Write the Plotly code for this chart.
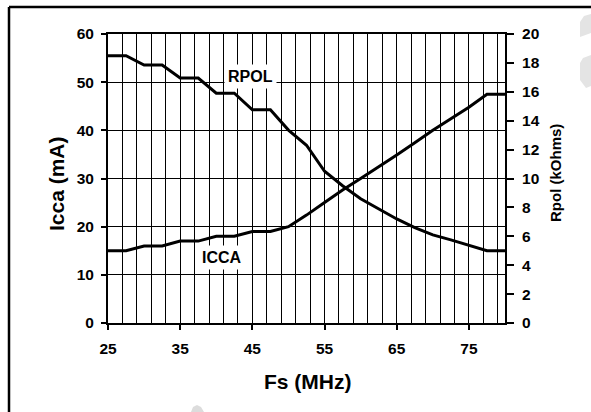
import plotly.graph_objects as go

# Sampling frequency (MHz)
fs = [25, 27.5, 30, 32.5, 35, 37.5, 40, 42.5, 45, 47.5, 50, 52.5,
      55, 57.5, 60, 62.5, 65, 67.5, 70, 72.5, 75, 77.5, 80]
# Analog supply current (mA), left axis
icca = [15, 15, 16, 16, 17, 17, 18, 18, 19, 19, 20, 22.4,
        25, 27.6, 30, 32.4, 34.9, 37.4, 40, 42.4, 44.8, 47.5, 47.5]
# Bias resistor (kOhms), right axis
rpol = [18.5, 18.5, 17.85, 17.85, 16.95, 16.95, 15.9, 15.9, 14.75, 14.75,
        13.35, 12.3, 10.5, 9.5, 8.6, 7.9, 7.2, 6.6, 6.1, 5.75, 5.4, 5.0, 5.0]

x_ticks = [25, 35, 45, 55, 65, 75]
y1_ticks = [0, 10, 20, 30, 40, 50, 60]
y2_ticks = [0, 2, 4, 6, 8, 10, 12, 14, 16, 18, 20]

FONT = "Liberation Sans, Arial, sans-serif"
W, H = 591, 412
L, R, T, B = 108, 505, 34, 323  # plot area in pixels


def px_x(px):
    return (px - L) / (R - L)


def px_y(py):
    return (B - py) / (B - T)


fig = go.Figure()
fig.add_trace(go.Scatter(x=fs, y=icca, mode="lines", name="ICCA",
                         line=dict(color="black", width=3), yaxis="y"))
fig.add_trace(go.Scatter(x=fs, y=rpol, mode="lines", name="RPOL",
                         line=dict(color="black", width=3), yaxis="y2"))

tickfont = dict(family=FONT, size=15.5, color="black", weight="bold")

fig.update_layout(
    width=W, height=H,
    margin=dict(l=L, r=W - R, t=T, b=H - B, pad=0),
    paper_bgcolor="white", plot_bgcolor="white",
    showlegend=False,
    xaxis=dict(
        range=[25, 80], tickvals=x_ticks, ticks="outside", ticklen=5,
        tickwidth=1.5, tickcolor="black", tickfont=tickfont,
        ticklabelstandoff=5,
        showline=True, linecolor="black", linewidth=2, mirror=True,
        showgrid=True, gridcolor="black", gridwidth=1,
        minor=dict(tick0=25, dtick=2, showgrid=True, gridcolor="black",
                   gridwidth=1, ticks=""),
        zeroline=False, fixedrange=True,
    ),
    yaxis=dict(
        range=[0, 60], tickvals=y1_ticks, ticks="outside", ticklen=5,
        tickwidth=1.5, tickcolor="black", tickfont=tickfont,
        ticklabelstandoff=4,
        showline=True, linecolor="black", linewidth=2,
        showgrid=True, gridcolor="black", gridwidth=1,
        zeroline=False, fixedrange=True,
    ),
    yaxis2=dict(
        range=[0, 20], tickvals=y2_ticks, ticks="outside", ticklen=7,
        tickwidth=1.5, tickcolor="black", tickfont=tickfont,
        ticklabelstandoff=5,
        overlaying="y", side="right",
        showline=True, linecolor="black", linewidth=2,
        showgrid=False, zeroline=False, fixedrange=True,
    ),
)

# Axis titles
fig.add_annotation(text="Fs (MHz)", xref="paper", yref="paper",
                   x=px_x(307.5), y=px_y(381), xanchor="center", yanchor="middle",
                   showarrow=False,
                   font=dict(family=FONT, size=21, color="black", weight="bold"))
fig.add_annotation(text="Icca (mA)", xref="paper", yref="paper",
                   x=px_x(56), y=px_y(184), xanchor="center", yanchor="middle",
                   showarrow=False, textangle=-90,
                   font=dict(family=FONT, size=21, color="black", weight="bold"))
fig.add_annotation(text="Rpol (kOhms)", xref="paper", yref="paper",
                   x=px_x(555), y=px_y(173), xanchor="center", yanchor="middle",
                   showarrow=False, textangle=-90,
                   font=dict(family=FONT, size=15, color="black", weight="bold"))

# Curve labels on white boxes
fig.add_annotation(text="RPOL", x=44.75, y=51.2, xref="x", yref="y",
                   xanchor="center", yanchor="middle",
                   showarrow=False, bgcolor="white", borderpad=3,
                   font=dict(family=FONT, size=16, color="black", weight="bold"))
fig.add_annotation(text="ICCA", x=40.8, y=13.7, xref="x", yref="y",
                   xanchor="center", yanchor="middle",
                   showarrow=False, bgcolor="white", borderpad=3,
                   font=dict(family=FONT, size=16, color="black", weight="bold"))

# Outer frame (open on the right and bottom edges of the page)
fig.add_shape(type="line", xref="paper", yref="paper",
              x0=px_x(9), y0=px_y(7), x1=px_x(W + 5), y1=px_y(7),
              line=dict(color="black", width=2.5), layer="above")
fig.add_shape(type="line", xref="paper", yref="paper",
              x0=px_x(9), y0=px_y(7), x1=px_x(9), y1=px_y(H + 5),
              line=dict(color="black", width=2.5), layer="above")

# Faint grey marks near the page edges
def pth(points):
    s = "M " + " L ".join(f"{px_x(a):.5f},{px_y(b):.5f}" for a, b in points)
    return s + " Z"

fig.add_shape(type="path", xref="paper", yref="paper",
              path=pth([(584, 16), (591, 14), (591, 33), (580, 37), (580, 22)]),
              fillcolor="#e4e4e4", line=dict(width=0), layer="above")
fig.add_shape(type="path", xref="paper", yref="paper",
              path=pth([(583, 58), (591, 55), (591, 86), (586, 88), (580, 80), (580, 63)]),
              fillcolor="#e4e4e4", line=dict(width=0), layer="above")
fig.add_shape(type="path", xref="paper", yref="paper",
              path=pth([(191, 412), (193, 407), (197, 405), (201, 407), (204, 412)]),
              fillcolor="#dcdcdc", line=dict(width=0), layer="above")

fig.write_html("out.html")
